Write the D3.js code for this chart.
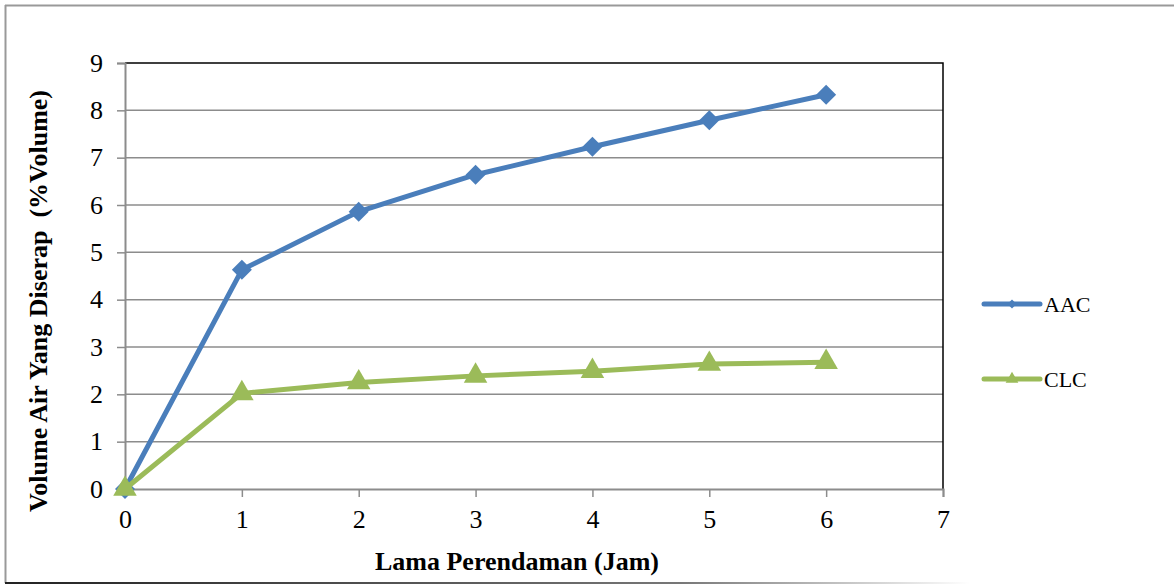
<!DOCTYPE html>
<html>
<head>
<meta charset="utf-8">
<script src="https://cdn.jsdelivr.net/npm/d3@7"></script>
<style>
  body { margin: 0; background: #fff; }
  svg { display: block; font-family: "Liberation Serif", "Times New Roman", serif; }
</style>
</head>
<body>
<div id="chart"></div>
<script>
const hours = [0, 1, 2, 3, 4, 5, 6];
const aacValues = [0, 4.63, 5.86, 6.64, 7.23, 7.79, 8.33];
const clcValues = [0, 2.02, 2.25, 2.39, 2.49, 2.64, 2.68];
const seriesNames = ["AAC", "CLC"];
const xTicks = [0, 1, 2, 3, 4, 5, 6, 7];
const yTicks = [0, 1, 2, 3, 4, 5, 6, 7, 8, 9];

const W = 1174, H = 585;
const margin = {top: 63, right: 231, bottom: 96, left: 125};
const width = W - margin.left - margin.right,
      height = H - margin.top - margin.bottom;

const root = d3.select("#chart").append("svg")
    .attr("width", W)
    .attr("height", H);

// outer chart frame (runs off the right edge, bottom fades out)
const grad = root.append("defs").append("linearGradient")
    .attr("id", "fade").attr("x1", "0").attr("x2", "1");
grad.append("stop").attr("offset", "0").attr("stop-color", "#222");
grad.append("stop").attr("offset", "0.7").attr("stop-color", "#777");
grad.append("stop").attr("offset", "1").attr("stop-color", "#fff");
root.append("line").attr("x1", 5).attr("x2", W).attr("y1", 5.5).attr("y2", 5.5)
    .attr("stroke", "#999").attr("stroke-width", 2);
root.append("line").attr("x1", 5.5).attr("x2", 5.5).attr("y1", 5).attr("y2", 583)
    .attr("stroke", "#999").attr("stroke-width", 2);
root.append("rect").attr("x", 5).attr("y", 582).attr("width", 965).attr("height", 2)
    .attr("fill", "url(#fade)");

const svg = root.append("g")
    .attr("transform", "translate(" + margin.left + "," + margin.top + ")");

const x = d3.scaleLinear().domain([0, 7]).range([0, width]);
const y = d3.scaleLinear().domain([0, 9]).range([height, 0]);

// gridlines
svg.append("g")
    .selectAll("line")
    .data(yTicks.filter(d => d > 0 && d < 9))
    .join("line")
        .attr("x1", 0).attr("x2", width)
        .attr("y1", d => y(d)).attr("y2", d => y(d))
        .attr("stroke", "#8c8c8c")
        .attr("stroke-width", 1.5);

// plot border top / right
svg.append("path")
    .attr("d", `M0,${y(9)}H${width}V${height}`)
    .attr("fill", "none")
    .attr("stroke", "#000")
    .attr("stroke-width", 1.5);

// axes
const xAxis = svg.append("g")
    .attr("transform", "translate(0," + height + ")")
    .call(d3.axisBottom(x).tickValues(xTicks).tickSize(8).tickPadding(13).tickFormat(d3.format("d")));
const yAxis = svg.append("g")
    .call(d3.axisLeft(y).tickValues(yTicks).tickSize(8).tickPadding(14).tickFormat(d3.format("d")));

[xAxis, yAxis].forEach(a => {
    a.select(".domain").attr("stroke", "#8c8c8c").attr("stroke-width", 2);
    a.selectAll(".tick line").attr("stroke", "#8c8c8c").attr("stroke-width", 1.5);
    a.selectAll(".tick text")
        .style("font-family", "'Liberation Serif', serif")
        .style("font-size", "26px")
        .attr("fill", "#000");
});

// titles
root.append("text")
    .attr("x", 517).attr("y", 570)
    .attr("text-anchor", "middle")
    .style("font-size", "26px").style("font-weight", "bold")
    .text("Lama Perendaman (Jam)");

root.append("text")
    .attr("transform", "translate(47,301) rotate(-90)")
    .attr("text-anchor", "middle")
    .style("font-size", "26px").style("font-weight", "bold")
    .style("white-space", "pre")
    .text("Volume Air Yang Diserap  (%Volume)");

// series
const series = [
    {name: seriesNames[0], values: aacValues, color: "#4a7ebb", symbol: d3.symbolSquare, rot: 45, size: 200, legSize: 40},
    {name: seriesNames[1], values: clcValues, color: "#9bbb59", symbol: d3.symbolTriangle, rot: 0, size: 240, legSize: 70}
];

const line = d3.line()
    .x((d, i) => x(hours[i]))
    .y(d => y(d));

series.forEach(s => {
    svg.append("path")
        .datum(s.values)
        .attr("fill", "none")
        .attr("stroke", s.color)
        .attr("stroke-width", 5)
        .attr("stroke-linejoin", "round")
        .attr("d", line);

    svg.append("g")
        .selectAll("path")
        .data(s.values)
        .join("path")
            .attr("transform", (d, i) => `translate(${x(hours[i])},${y(d)}) rotate(${s.rot})`)
            .attr("d", d3.symbol().type(s.symbol).size(s.size))
            .attr("fill", s.color);
});

// legend
const legend = root.append("g")
    .attr("transform", "translate(984,0)");
const legendY = [304, 379];
series.forEach((s, i) => {
    const g = legend.append("g").attr("transform", `translate(0,${legendY[i]})`);
    g.append("line")
        .attr("x1", 0).attr("x2", 56)
        .attr("stroke", s.color)
        .attr("stroke-width", 5)
        .attr("stroke-linecap", "round");
    g.append("path")
        .attr("transform", `translate(28,0) rotate(${s.rot})`)
        .attr("d", d3.symbol().type(s.symbol).size(s.legSize))
        .attr("fill", s.color);
    g.append("text")
        .attr("x", 60).attr("dy", "0.35em")
        .style("font-size", "22px")
        .text(s.name);
});
</script>
</body>
</html>
